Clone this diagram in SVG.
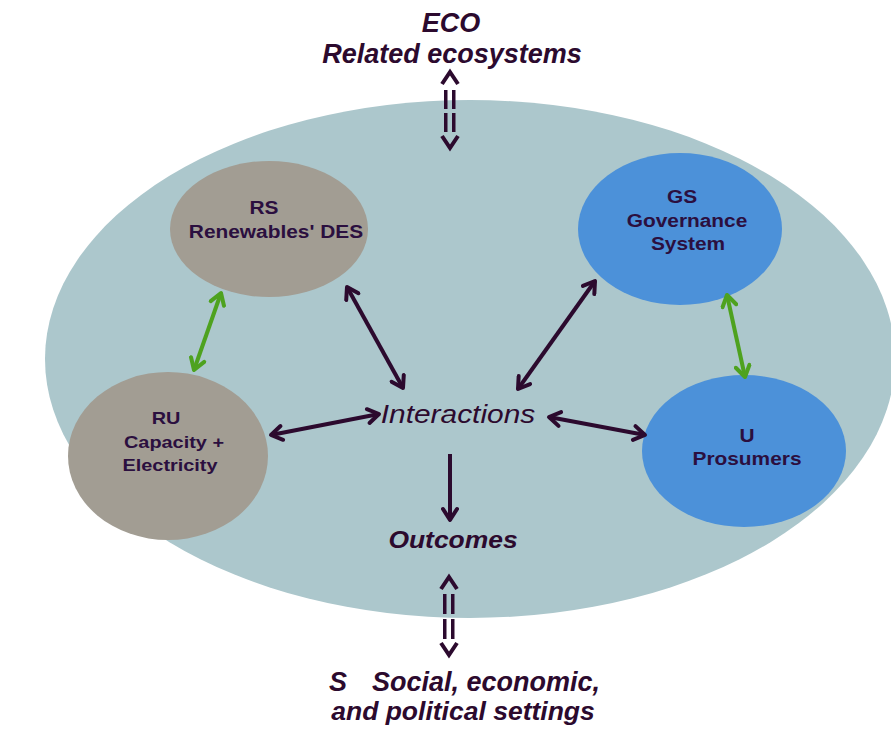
<svg xmlns="http://www.w3.org/2000/svg" width="891" height="729" viewBox="0 0 891 729">
<style>
.node-t{font-family:"Liberation Sans",Arial,sans-serif;font-weight:bold;font-size:18px;fill:#2b0f3f;text-anchor:middle}
.lbl{font-family:"Liberation Sans",Arial,sans-serif;font-style:italic;fill:#2c0a2e;text-anchor:middle}
.dark{stroke:#2c0a2e;stroke-width:4;fill:none}
.green{stroke:#4ea21f;stroke-width:4;fill:none}
.bar{fill:#2c0a2e}
</style>
<defs>
<marker id="ad" markerUnits="userSpaceOnUse" markerWidth="18" markerHeight="18" viewBox="0 0 18 18" refX="15" refY="9" orient="auto-start-reverse">
<path d="M4,2 L15,9 L4,16" fill="none" stroke="#2c0a2e" stroke-width="4" stroke-linecap="round" stroke-linejoin="round"/>
</marker>
<marker id="ag" markerUnits="userSpaceOnUse" markerWidth="18" markerHeight="18" viewBox="0 0 18 18" refX="15" refY="9" orient="auto-start-reverse">
<path d="M4,2 L15,9 L4,16" fill="none" stroke="#4ea21f" stroke-width="4" stroke-linecap="round" stroke-linejoin="round"/>
</marker>
</defs>
<rect width="891" height="729" fill="#ffffff"/>
<g id="system">
<ellipse cx="470" cy="359" rx="425" ry="259" fill="#acc7cc"/>
</g>
<g id="RS">
<ellipse cx="269" cy="229" rx="99" ry="68" fill="#a29d93"/>
<g transform="translate(264,0) scale(1.16,1)"><text class="node-t" x="0" y="214">RS</text></g>
<g transform="translate(276,0) scale(1.16,1)"><text class="node-t" x="0" y="238">Renewables' DES</text></g>
</g>
<g id="RU">
<ellipse cx="168" cy="456" rx="100" ry="84" fill="#a29d93"/>
<g transform="translate(166,0) scale(1.17,1)"><text class="node-t" x="0" y="424" style="font-size:17px">RU</text></g>
<g transform="translate(174,0) scale(1.17,1)"><text class="node-t" x="0" y="448" style="font-size:17px">Capacity +</text></g>
<g transform="translate(170,0) scale(1.17,1)"><text class="node-t" x="0" y="471" style="font-size:17px">Electricity</text></g>
</g>
<g id="GS">
<ellipse cx="680" cy="229" rx="102" ry="76" fill="#4c91d9"/>
<g transform="translate(682,0) scale(1.16,1)"><text class="node-t" x="0" y="203">GS</text></g>
<g transform="translate(687,0) scale(1.16,1)"><text class="node-t" x="0" y="227">Governance</text></g>
<g transform="translate(688,0) scale(1.16,1)"><text class="node-t" x="0" y="250">System</text></g>
</g>
<g id="U">
<ellipse cx="744" cy="451" rx="102" ry="76" fill="#4c91d9"/>
<g transform="translate(747,0) scale(1.16,1)"><text class="node-t" x="0" y="442">U</text></g>
<g transform="translate(747,0) scale(1.16,1)"><text class="node-t" x="0" y="465">Prosumers</text></g>
</g>
<g id="Interactions">
<g transform="translate(458,0) scale(1.15,1)"><text class="lbl" x="0" y="423" style="font-size:26px">Interactions</text></g>
</g>
<g id="Outcomes">
<g transform="translate(453,0) scale(1.15,1)"><text class="lbl" x="0" y="548" style="font-size:23px;font-weight:bold">Outcomes</text></g>
</g>
<g id="ECO">
<text class="lbl" x="451" y="32" style="font-size:27px;font-weight:bold">ECO</text>
<text class="lbl" x="452" y="63" style="font-size:27px;font-weight:bold">Related ecosystems</text>
</g>
<g id="S">
<text class="lbl" y="691" style="font-size:27px;font-weight:bold;text-anchor:start"><tspan x="329">S</tspan><tspan x="372">Social, economic,</tspan></text>
<text class="lbl" x="463" y="720" style="font-size:26.5px;font-weight:bold">and political settings</text>
</g>
<g id="connectors">
<line class="dark" x1="347" y1="287" x2="403" y2="388" marker-start="url(#ad)" marker-end="url(#ad)"/>
<line class="green" x1="221" y1="293" x2="194" y2="370" marker-start="url(#ag)" marker-end="url(#ag)"/>
<line class="dark" x1="271" y1="435" x2="379" y2="414" marker-start="url(#ad)" marker-end="url(#ad)"/>
<line class="dark" x1="595" y1="281" x2="518" y2="389" marker-start="url(#ad)" marker-end="url(#ad)"/>
<line class="dark" x1="549" y1="417" x2="645" y2="435" marker-start="url(#ad)" marker-end="url(#ad)"/>
<line class="green" x1="727" y1="295" x2="745" y2="377" marker-start="url(#ag)" marker-end="url(#ag)"/>
<line class="dark" x1="450" y1="454" x2="450" y2="520" marker-end="url(#ad)"/>
<g id="eco-link">
<polyline class="dark" points="442,84 450,72 458,84" stroke-width="3.5"/>
<rect class="bar" x="444" y="90" width="3.5" height="19"/>
<rect class="bar" x="452" y="90" width="3.5" height="19"/>
<rect class="bar" x="444" y="113" width="3.5" height="19"/>
<rect class="bar" x="452" y="113" width="3.5" height="19"/>
<polyline class="dark" points="442,136 450,148 458,136" stroke-width="3.5"/>
</g>
<g id="s-link">
<polyline class="dark" points="441,589 449,577 457,589" stroke-width="3.5"/>
<rect class="bar" x="443" y="594" width="3.5" height="20"/>
<rect class="bar" x="451" y="594" width="3.5" height="20"/>
<rect class="bar" x="443" y="619" width="3.5" height="20"/>
<rect class="bar" x="451" y="619" width="3.5" height="20"/>
<polyline class="dark" points="441,643 449,655 457,643" stroke-width="3.5"/>
</g>
</g>
</svg>
